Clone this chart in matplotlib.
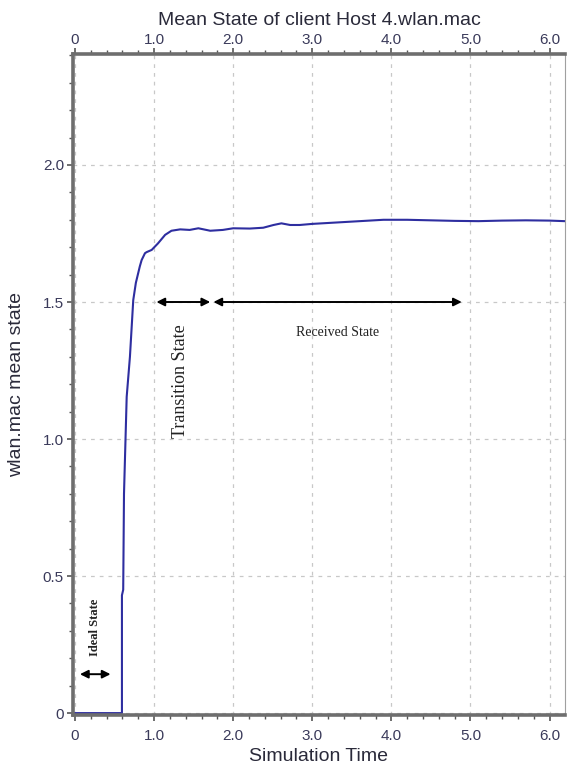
import matplotlib
matplotlib.use("Agg")
import matplotlib.pyplot as plt
from matplotlib.ticker import MultipleLocator

# ---- data ----
time = [0, 0.594, 0.594, 0.61, 0.62, 0.654, 0.695, 0.737, 0.77, 0.80, 0.82,
        0.843, 0.885, 0.906, 0.97, 1.05, 1.14, 1.22, 1.33, 1.45, 1.56, 1.71,
        1.87, 2.0, 2.21, 2.38, 2.51, 2.61, 2.72, 2.84, 3.0, 3.3, 3.6, 3.9,
        4.2, 4.5, 4.8, 5.1, 5.4, 5.7, 6.0, 6.19]
state = [0, 0, 0.43, 0.45, 0.80, 1.154, 1.30, 1.507, 1.57, 1.606, 1.63,
         1.653, 1.678, 1.682, 1.69, 1.714, 1.745, 1.76, 1.765, 1.763, 1.769,
         1.76, 1.763, 1.769, 1.768, 1.771, 1.781, 1.787, 1.781, 1.781, 1.785,
         1.79, 1.795, 1.80, 1.80, 1.798, 1.796, 1.795, 1.797, 1.798, 1.797, 1.795]

x_ticks = [0, 1, 2, 3, 4, 5, 6]
x_tick_labels = ["0", "1.0", "2.0", "3.0", "4.0", "5.0", "6.0"]
y_ticks = [0, 0.5, 1.0, 1.5, 2.0]
y_tick_labels = ["0", "0.5", "1.0", "1.5", "2.0"]

title = "Mean State of client Host 4.wlan.mac"
xlabel = "Simulation Time"
ylabel = "wlan.mac mean state"

# annotations: (x_start, x_end, y)
ideal_arrow = (0.063, 0.45, 0.142)
transition_arrow = (1.03, 1.71, 1.5)
received_arrow = (1.75, 4.89, 1.5)

plt.rcParams['font.family'] = ['Liberation Sans', 'DejaVu Sans']

fig = plt.figure(figsize=(5.67, 7.71), dpi=100)
ax = fig.add_axes([0.1287, 0.0726, 0.8678, 0.8574])

ax.plot(time, state, color='#2e2ea0', lw=1.5)

ax.set_xlim(-0.025, 6.195)
ax.set_ylim(-0.007, 2.405)

ax.set_xticks(x_ticks)
ax.set_xticklabels(x_tick_labels)
ax.set_yticks(y_ticks)
ax.set_yticklabels(y_tick_labels)
ax.xaxis.set_minor_locator(MultipleLocator(0.2))
ax.yaxis.set_minor_locator(MultipleLocator(0.1))

tick_kw = dict(direction='out', colors='#555555', labelcolor='#3a3a5a', labelsize=11)
ax.tick_params(which='both', right=False, top=False, **tick_kw)
ax.tick_params(which='major', length=4, width=1.2)
ax.tick_params(which='minor', length=3, width=1.0)
ax.tick_params(axis='x', which='major', pad=6)
ax.tick_params(axis='y', which='major', pad=2.5)

secax = ax.secondary_xaxis('top')
secax.set_xticks(x_ticks)
secax.set_xticklabels(x_tick_labels)
secax.xaxis.set_minor_locator(MultipleLocator(0.2))
secax.tick_params(which='both', **tick_kw)
secax.tick_params(which='major', length=4, width=1.2, pad=1)
secax.tick_params(which='minor', length=3, width=1.0)
secax.spines['top'].set_visible(False)

ax.grid(True, which='major', color='#c8c8c8', lw=0.9, ls=(0, (3, 4)))

for side in ['left', 'top', 'bottom']:
    ax.spines[side].set_color('#6e6e6e')
    ax.spines[side].set_linewidth(2.6)
ax.spines['right'].set_color('#a0a0a0')
ax.spines['right'].set_linewidth(0.8)

ax.set_title(title, fontsize=14, color='#2a2a3a', pad=6)
ax.set_xlabel(xlabel, fontsize=14, color='#2a2a3a', labelpad=4)
ax.set_ylabel(ylabel, fontsize=14, color='#2a2a3a', labelpad=13)

arrow_kw = dict(arrowstyle='<|-|>', color='black', lw=1.4,
                mutation_scale=12, shrinkA=0, shrinkB=0)
for (xs, xe, yy) in [ideal_arrow, transition_arrow, received_arrow]:
    ax.annotate('', xy=(xe, yy), xytext=(xs, yy), arrowprops=arrow_kw)

serif = ['Liberation Serif', 'DejaVu Serif']
ax.text(0.25, 0.314, 'Ideal State', rotation=90, ha='center', va='center',
        fontsize=9, fontweight='bold', family=serif, color='#222222')
ax.text(1.33, 1.21, 'Transition State', rotation=90, ha='center', va='center',
        fontsize=13, family=serif, color='#222222')
ax.text(3.32, 1.387, 'Received State', ha='center', va='center',
        fontsize=10, family=serif, color='#222222')

fig.savefig('out.png', dpi=100)
